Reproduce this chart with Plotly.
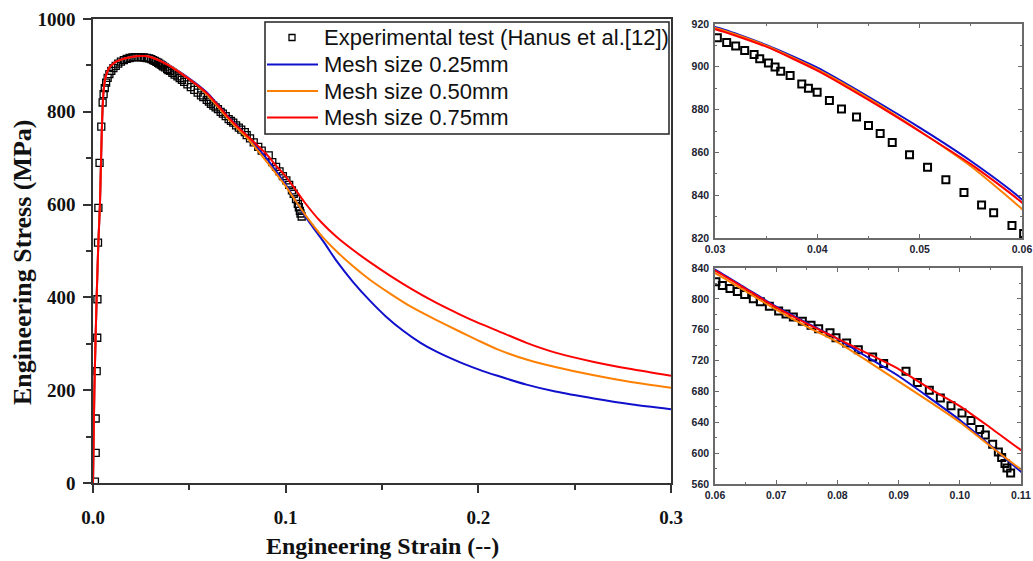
import plotly.graph_objects as go

# ---------------- data ----------------
exp_strain = [0.0010, 0.0014, 0.0014, 0.0019, 0.0022, 0.0023, 0.0026, 0.0028, 0.0034, 0.0043,
              0.0050, 0.0055, 0.0061, 0.0068, 0.0076, 0.0085, 0.0095, 0.0106, 0.0118, 0.0131,
              0.0145, 0.0160, 0.0175, 0.0190, 0.0205, 0.0220, 0.0235, 0.0250, 0.0265, 0.0280,
              0.0292,
              0.03023, 0.03114, 0.03202, 0.03290, 0.03382, 0.03437, 0.03522, 0.03587, 0.03642,
              0.03734, 0.03848, 0.03913, 0.03998, 0.04118, 0.04236, 0.04383, 0.04500, 0.04614,
              0.04732, 0.04901, 0.05077, 0.05256, 0.05433, 0.05605, 0.05723, 0.05902,
              0.06016, 0.06120, 0.06245, 0.06365, 0.06485, 0.06626, 0.06741, 0.06888, 0.07040,
              0.07160, 0.07280, 0.07427, 0.07569, 0.07694, 0.07879, 0.07977, 0.08151, 0.08342,
              0.08576, 0.08756, 0.09121, 0.09306, 0.09502, 0.09682, 0.09856, 0.10036, 0.10183,
              0.10325, 0.10417, 0.10537, 0.10630, 0.10684, 0.10738, 0.10771, 0.10831]
exp_stress = [3, 65, 139, 241, 313, 396, 518, 593, 690, 768,
              820, 838, 851, 863, 873, 881, 888, 894, 899, 904,
              908, 911.5, 914, 916, 917.5, 918, 918, 917.5, 917, 916,
              915,
              913.6, 911.4, 909.7, 907.6, 905.7, 903.8, 901.8, 899.9, 897.9,
              895.9, 892.0, 890.0, 888.1, 884.2, 880.3, 876.5, 872.6, 868.8,
              864.6, 858.9, 853.1, 847.2, 841.3, 835.4, 831.8, 825.8,
              822.1, 817.4, 813.5, 809.5, 805.6, 800.0, 796.1, 790.5, 784.4,
              780.5, 776.6, 770.9, 765.7, 761.4, 756.2, 749.7, 742.7, 734.0,
              724.5, 716.2, 706.3, 691.5, 681.5, 671.5, 661.5, 652.0, 642.4,
              630.7, 623.4, 611.6, 601.6, 594.3, 586.5, 580.8, 574.3]

mesh025_strain = [0, 0.0007, 0.0019, 0.0028, 0.0036, 0.0042, 0.0048, 0.0054, 0.0062, 0.0072,
                  0.0085, 0.010, 0.012, 0.015, 0.018, 0.021, 0.024, 0.027, 0.030, 0.035,
                  0.040, 0.045, 0.050, 0.055, 0.060, 0.065, 0.070, 0.075, 0.080, 0.085,
                  0.090, 0.095, 0.100, 0.105, 0.110, 0.1126, 0.120, 0.1265, 0.135, 0.1437,
                  0.152, 0.161, 0.170, 0.1783, 0.190, 0.200, 0.210, 0.225, 0.240, 0.260,
                  0.280, 0.300]
mesh025_stress = [0, 200, 400, 520, 600, 700, 790, 840, 868, 884,
                  895, 902, 908, 913, 916.5, 918.8, 920, 920, 918.6, 910.2,
                  899.6, 886.0, 871.6, 856.0, 838.0, 814.0, 790.0, 769.0, 748.0, 724.0,
                  700.0, 672.0, 643.0, 610.0, 576.0, 560.0, 518.0, 478.0, 433.0, 393.0,
                  359.0, 328.0, 302.0, 283.0, 261.0, 245.0, 231.0, 212.0, 197.0, 182.0,
                  169.0, 159.0]

mesh050_strain = [0, 0.0007, 0.0019, 0.0028, 0.0036, 0.0042, 0.0048, 0.0054, 0.0062, 0.0072,
                  0.0085, 0.010, 0.012, 0.015, 0.018, 0.021, 0.024, 0.027, 0.030, 0.035,
                  0.040, 0.045, 0.050, 0.055, 0.060, 0.065, 0.070, 0.075, 0.080, 0.085,
                  0.090, 0.095, 0.100, 0.105, 0.110, 0.118, 0.1265, 0.135, 0.1437, 0.155,
                  0.165, 0.1783, 0.190, 0.200, 0.210, 0.225, 0.240, 0.260, 0.280, 0.300]
mesh050_stress = [0, 200, 400, 520, 600, 700, 790, 840, 868, 884,
                  895, 902, 908, 913, 916.5, 918.8, 920, 920, 918.2, 909.9,
                  898.8, 885.3, 870.0, 853.5, 833.5, 810.0, 786.0, 764.0, 744.0, 719.0,
                  693.0, 667.0, 640.0, 609.0, 579.0, 536.0, 499.0, 467.0, 438.0, 406.0,
                  380.0, 351.0, 327.0, 307.0, 288.0, 266.0, 250.0, 232.0, 217.0, 205.0]

mesh075_strain = [0, 0.0007, 0.0019, 0.0028, 0.0036, 0.0042, 0.0048, 0.0054, 0.0062, 0.0072,
                  0.0085, 0.010, 0.012, 0.015, 0.018, 0.021, 0.024, 0.027, 0.030, 0.035,
                  0.040, 0.045, 0.050, 0.055, 0.060, 0.065, 0.070, 0.075, 0.080, 0.085,
                  0.090, 0.095, 0.100, 0.105, 0.110, 0.118, 0.1265, 0.135, 0.1437, 0.1541,
                  0.165, 0.1783, 0.190, 0.200, 0.210, 0.225, 0.240, 0.260, 0.280, 0.300]
mesh075_stress = [0, 200, 400, 520, 600, 700, 790, 840, 868, 884,
                  895, 902, 908, 913, 916.5, 918.8, 920, 920, 917.6, 909.4,
                  898.2, 884.5, 869.8, 854.5, 836.5, 813.0, 789.0, 768.0, 748.5, 729.0,
                  709.0, 684.0, 661.0, 633.0, 604.0, 564.0, 530.0, 502.0, 476.0, 447.0,
                  419.0, 388.0, 364.0, 345.0, 328.0, 302.0, 281.0, 261.0, 245.0, 231.0]

series_names = ["Experimental test (Hanus et al.[12])", "Mesh size 0.25mm",
                "Mesh size 0.50mm", "Mesh size 0.75mm"]
series_colors = ["#000000", "#1010CC", "#FF8000", "#FF0000"]

main_xticks = [0.0, 0.1, 0.2, 0.3]
main_yticks = [0, 200, 400, 600, 800, 1000]

W, H = 1033, 561


def px(x):
    return x / W


def py(y):
    return 1 - y / H


# ---------------- figure ----------------
fig = go.Figure()

axes_sets = [("x", "y", 1.3, 2.0), ("x2", "y2", 2.0, 2.0), ("x3", "y3", 2.0, 2.0)]
for xa, ya, mlw, lw in axes_sets:
    fig.add_trace(go.Scatter(
        x=exp_strain, y=exp_stress, mode="markers", name=series_names[0],
        marker=dict(symbol="square-open", size=7, color="#000000", line=dict(width=mlw, color="#000000")),
        xaxis=xa, yaxis=ya, showlegend=False))
    for name, color, xs, ys in [
        (series_names[1], series_colors[1], mesh025_strain, mesh025_stress),
        (series_names[2], series_colors[2], mesh050_strain, mesh050_stress),
        (series_names[3], series_colors[3], mesh075_strain, mesh075_stress),
    ]:
        fig.add_trace(go.Scatter(
            x=xs, y=ys, mode="lines", name=name,
            line=dict(color=color, width=lw, shape="spline", smoothing=0.6),
            xaxis=xa, yaxis=ya, showlegend=False))

serif_bold = dict(family="Liberation Serif", size=19, color="#111111", weight="bold")
inset_font = dict(family="Liberation Sans", size=10.5, color="#1c2331", weight="bold")

main_axis_common = dict(showline=True, linewidth=1.6, linecolor="#333333", mirror=True,
                        showgrid=False, zeroline=False, ticks="outside", ticklen=8,
                        tickwidth=1.5, tickcolor="#333333", tickfont=serif_bold, automargin=False)

inset_axis_common = dict(showline=True, linewidth=1.6, linecolor="#6a6a6a", mirror="allticks",
                         showgrid=False, zeroline=False, ticks="inside", ticklen=4,
                         tickwidth=1.2, tickcolor="#6a6a6a", tickfont=inset_font, automargin=False)

# ---- legend (drawn as shapes + text, to match the reference box) ----
legend_rows_y = [37.5, 64.5, 91.0, 117.5]
shapes = [dict(type="rect", xref="paper", yref="paper",
               x0=px(265), x1=px(669), y0=py(134), y1=py(22),
               line=dict(color="#222222", width=1.5), fillcolor="white", layer="above")]
annotations = []
for i, (name, color) in enumerate(zip(series_names, series_colors)):
    yy = legend_rows_y[i]
    if i == 0:
        shapes.append(dict(type="rect", xref="paper", yref="paper",
                           x0=px(289), x1=px(295), y0=py(yy + 3), y1=py(yy - 3),
                           line=dict(color="#000000", width=1.3), layer="above"))
    else:
        shapes.append(dict(type="line", xref="paper", yref="paper",
                           x0=px(267), x1=px(318), y0=py(yy), y1=py(yy),
                           line=dict(color=color, width=2), layer="above"))
    annotations.append(dict(text=name, x=px(322), y=py(yy), xref="paper", yref="paper",
                            xanchor="left", yanchor="middle", showarrow=False,
                            font=dict(family="Liberation Sans", size=22, color="#111111")))

annotations += [
    dict(text="Engineering Strain (--)", x=px(382), y=py(546), xref="paper", yref="paper",
         xanchor="center", yanchor="middle", showarrow=False,
         font=dict(family="Liberation Serif", size=24, color="#111111", weight="bold")),
    dict(text="Engineering Stress (MPa)", x=px(22), y=py(262), xref="paper", yref="paper",
         xanchor="center", yanchor="middle", showarrow=False, textangle=-90,
         font=dict(family="Liberation Serif", size=26, color="#111111", weight="bold")),
]

fig.update_layout(
    width=W, height=H,
    margin=dict(l=0, r=0, t=0, b=0, autoexpand=False),
    paper_bgcolor="white", plot_bgcolor="white",
    showlegend=False,
    xaxis=dict(domain=[px(93), px(671)], range=[0, 0.3], anchor="y",
               tickvals=main_xticks, tickformat=".1f", ticklabelstandoff=8,
               minor=dict(dtick=0.05, ticks="outside", ticklen=5, tickwidth=1.5, tickcolor="#333333"),
               **main_axis_common),
    yaxis=dict(domain=[py(483), py(19)], range=[0, 1000], anchor="x",
               tickvals=main_yticks, ticklabelstandoff=4,
               minor=dict(dtick=100, ticks="outside", ticklen=5, tickwidth=1.5, tickcolor="#333333"),
               **main_axis_common),
    xaxis2=dict(domain=[px(715), px(1022)], range=[0.03, 0.06], anchor="y2",
                dtick=0.01, tickformat=".2f", ticklabelstandoff=1,
                minor=dict(dtick=0.005, ticks="inside", ticklen=2.5, tickwidth=1.2, tickcolor="#6a6a6a"),
                **inset_axis_common),
    yaxis2=dict(domain=[py(238), py(24)], range=[820, 920], anchor="x2",
                dtick=20, ticklabelstandoff=2,
                minor=dict(dtick=10, ticks="inside", ticklen=2.5, tickwidth=1.2, tickcolor="#6a6a6a"),
                **inset_axis_common),
    xaxis3=dict(domain=[px(715), px(1021)], range=[0.06, 0.11], anchor="y3",
                dtick=0.01, tickformat=".2f", ticklabelstandoff=1,
                minor=dict(dtick=0.005, ticks="inside", ticklen=2.5, tickwidth=1.2, tickcolor="#6a6a6a"),
                **inset_axis_common),
    yaxis3=dict(domain=[py(484), py(268)], range=[560, 840], anchor="x3",
                dtick=40, ticklabelstandoff=2,
                minor=dict(dtick=20, ticks="inside", ticklen=2.5, tickwidth=1.2, tickcolor="#6a6a6a"),
                **inset_axis_common),
    shapes=shapes,
    annotations=annotations,
)

# the page's default 8px body margin would shift the figure; remove it
fig.write_html("out.html",
               config={"displayModeBar": False},
               post_script="document.body.style.margin='0px';document.body.style.overflow='hidden';")
